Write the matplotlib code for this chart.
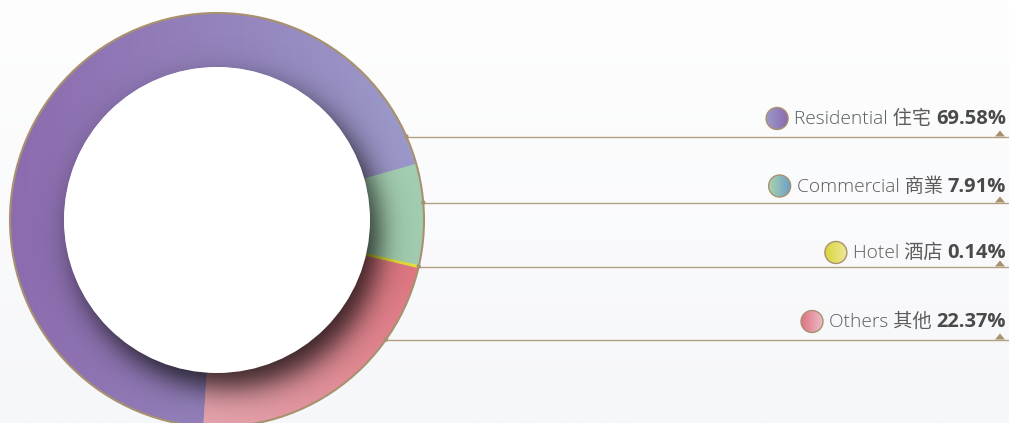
# -*- coding: utf-8 -*-
"""
Donut de distribucion por uso (Residential / Commercial / Hotel / Others)
con leyenda a la derecha unida al anillo por lineas guia doradas.
"""
import matplotlib
matplotlib.use("Agg")  # sin ventana, solo PNG
import matplotlib.pyplot as plt
import numpy as np
from matplotlib.colors import to_rgb
from matplotlib.patches import Circle, Polygon

# --- Datos ---
CATEGORIAS = ["Residential", "Commercial", "Hotel", "Others"]
NOMBRES_ZH = ["住宅", "商業", "酒店", "其他"]
PORCENTAJES = [69.58, 7.91, 0.14, 22.37]

# --- Estilo ---
# (inicio, fin, angulo del degradado) para cada sector y cada marcador
COLORES_SECTOR = [("#8c6bae", "#9c9aca", 0),
                  ("#a9d4b6", "#a2cdb0", 0),
                  ("#e4e03c", "#e4e03c", 0),
                  ("#e6a6af", "#e07580", 35)]
COLORES_MARCA = [("#9b9aca", "#8b6baf", 0),
                 ("#a9d3ae", "#6a9eca", 0),
                 ("#d9d53c", "#eee99a", 0),
                 ("#df7282", "#eabdc5", 0)]
ORO = "#a8916f"
LINEA = "#b3a184"
GRIS = "#5c5c5c"
GRIS_OSC = "#4a4a4a"

W, H = 1009, 423
CX, CY = 217, H - 220
R_EXT, R_INT = 207, 153
# posiciones (px desde arriba) de lineas guia y lineas base del texto
Y_LINEAS = [136.5, 202.5, 266.5, 339.5]
Y_TEXTO = [124, 191.5, 258, 327]
X_DER = 1006

plt.rcParams["font.family"] = ["Open Sans", "Noto Sans CJK TC", "DejaVu Sans"]


def degradado(ax, c0, c1, angulo, extent, clip, zorder, n=256):
    X, Y = np.meshgrid(np.linspace(0, 1, n), np.linspace(0, 1, n))
    a = np.radians(angulo)
    t = X * np.cos(a) + Y * np.sin(a)
    t = (t - t.min()) / (t.max() - t.min())
    img = ((1 - t)[..., None] * np.array(to_rgb(c0))
           + t[..., None] * np.array(to_rgb(c1)))
    im = ax.imshow(img, extent=extent, origin="lower",
                   interpolation="bilinear", zorder=zorder)
    im.set_clip_path(clip)
    return im


fig = plt.figure(figsize=(W / 100, H / 100), dpi=100)
ax = fig.add_axes([0, 0, 1, 1])

# fondo casi blanco con un leve tono frio abajo
abajo, arriba = np.array(to_rgb("#f6f7fa")), np.array(to_rgb("#fefefe"))
fondo = abajo + np.linspace(0, 1, 64)[:, None, None] * (arriba - abajo)
ax.imshow(np.repeat(fondo, 2, axis=1), extent=(0, W, 0, H), origin="lower",
          interpolation="bilinear", zorder=0)

sectores, _ = ax.pie(
    PORCENTAJES, radius=R_EXT, center=(CX, CY), startangle=-93.8,
    counterclock=False, colors=[c[1] for c in COLORES_SECTOR],
    wedgeprops=dict(width=R_EXT - R_INT, linewidth=0),
)

# degradado de cada sector recortado a su cuna
for cuna, (c0, c1, ang) in zip(sectores, COLORES_SECTOR):
    bb = cuna.get_path().get_extents()
    degradado(ax, c0, c1, ang, (bb.x0, bb.x1, bb.y0, bb.y1), cuna, 2)

# el sector de hotel es muy fino: se refuerza con su borde
hotel = sectores[CATEGORIAS.index("Hotel")]
hotel.set_edgecolor(COLORES_SECTOR[2][0])
hotel.set_linewidth(0.9)
hotel.set_zorder(2.5)

# sombra difusa del circulo blanco, desplazada abajo-derecha
n = 400
xs = np.linspace(CX - R_EXT, CX + R_EXT, n)
ys = np.linspace(CY - R_EXT, CY + R_EXT, n)
X, Y = np.meshgrid(xs, ys)
d = np.hypot(X - (CX + 10), Y - (CY - 15))
alfa = 0.78 / (1 + np.exp(1.7 * (d - R_INT) / 15))
sombra = np.zeros((n, n, 4))
sombra[..., 3] = alfa
borde_ext = Circle((CX, CY), R_EXT, transform=ax.transData)
im = ax.imshow(sombra, extent=(xs[0], xs[-1], ys[0], ys[-1]), origin="lower",
               interpolation="bilinear", zorder=3)
im.set_clip_path(borde_ext)

ax.add_patch(Circle((CX, CY), R_INT, facecolor="white", edgecolor="none", zorder=4))
ax.add_patch(Circle((CX, CY), R_EXT, facecolor="none", edgecolor=ORO,
                    linewidth=1.5, zorder=5))

# lineas guia con punto en el anillo y triangulo al final
for yl in Y_LINEAS:
    y = H - yl
    x0 = CX + np.sqrt(R_EXT ** 2 - (y - CY) ** 2)
    ax.plot([x0, W], [y, y], color=LINEA, linewidth=1.0, zorder=6,
            solid_capstyle="butt")
    ax.add_patch(Circle((x0, y), 2.2, facecolor=ORO, edgecolor="none", zorder=6))
    ax.add_patch(Polygon([[995, y], [1005, y], [1000, y + 6]], closed=True,
                         facecolor=ORO, edgecolor="none", zorder=6))

# limites fijos antes de medir el texto
ax.set_xlim(0, W)
ax.set_ylim(0, H)
ax.set_aspect("equal")
ax.axis("off")

# leyenda: porcentaje en negrita + etiqueta + marcador circular
fig.canvas.draw()
rend = fig.canvas.get_renderer()
inv = ax.transData.inverted()
for i, cat in enumerate(CATEGORIAS):
    yb = H - Y_TEXTO[i]
    t_pct = ax.text(X_DER, yb, f"{PORCENTAJES[i]:.2f}%", ha="right",
                    va="baseline", fontsize=14.5, fontweight="bold",
                    color=GRIS_OSC, zorder=7)
    x_izq = inv.transform(t_pct.get_window_extent(rend))[0][0]
    t_lab = ax.text(x_izq - 5, yb, f"{cat} {NOMBRES_ZH[i]}", ha="right",
                    va="baseline", fontsize=13.8, fontweight="light",
                    color=GRIS, zorder=7)
    x_izq = inv.transform(t_lab.get_window_extent(rend))[0][0]
    mx, my, mr = x_izq - 17, yb + 5.5, 11
    marca = Circle((mx, my), mr, transform=ax.transData)
    c0, c1, ang = COLORES_MARCA[i]
    degradado(ax, c0, c1, ang, (mx - mr, mx + mr, my - mr, my + mr), marca, 7, n=64)
    ax.add_patch(Circle((mx, my), mr, facecolor="none", edgecolor=ORO,
                        linewidth=1.0, zorder=8))

ax.set_xlim(0, W)
ax.set_ylim(0, H)

fig.savefig("out.png", dpi=100)
